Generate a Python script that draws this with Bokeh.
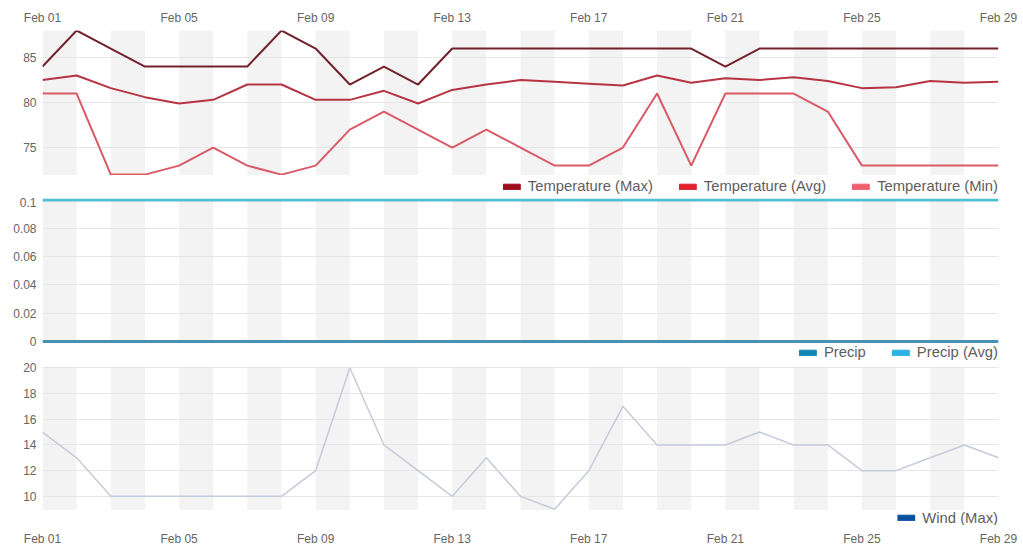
import numpy as np
import pandas as pd
from bokeh.plotting import figure
from bokeh.layouts import column
from bokeh.models import (Range1d, FixedTicker, DatetimeAxis, DatetimeTickFormatter,
                          Legend, LegendItem, BoxAnnotation)
from bokeh.embed import file_html
from bokeh.resources import INLINE

# ---------------- data ----------------
dates = pd.date_range("2020-02-01", "2020-02-29", freq="D")

temp_max = [84, 88, 86, 84, 84, 84, 84, 88, 86, 82, 84, 82, 86, 86, 86,
            86, 86, 86, 86, 86, 84, 86, 86, 86, 86, 86, 86, 86, 86]
temp_avg = [82.5, 83.0, 81.6, 80.6, 79.9, 80.3, 82.0, 82.0, 80.3, 80.3, 81.3, 79.9, 81.4, 82.0, 82.5,
            82.3, 82.1, 81.9, 83.0, 82.2, 82.7, 82.5, 82.8, 82.4, 81.6, 81.7, 82.4, 82.2, 82.3]
temp_min = [81, 81, 72, 72, 73, 75, 73, 72, 73, 77, 79, 77, 75, 77, 75,
            73, 73, 75, 81, 73, 81, 81, 81, 79, 73, 73, 73, 73, 73]
precip = [0, 0, 0, 0, 0, 0, 0, 0, 0, 0, 0, 0, 0, 0, 0,
          0, 0, 0, 0, 0, 0, 0, 0, 0, 0, 0, 0, 0, 0]
precip_avg = [0.1, 0.1, 0.1, 0.1, 0.1, 0.1, 0.1, 0.1, 0.1, 0.1, 0.1, 0.1, 0.1, 0.1, 0.1,
              0.1, 0.1, 0.1, 0.1, 0.1, 0.1, 0.1, 0.1, 0.1, 0.1, 0.1, 0.1, 0.1, 0.1]
wind_max = [15, 13, 10, 10, 10, 10, 10, 10, 12, 20, 14, 12, 10, 13, 10,
            9, 12, 17, 14, 14, 14, 15, 14, 14, 12, 12, 13, 14, 13]

x_tick_dates = ["2020-02-01", "2020-02-05", "2020-02-09", "2020-02-13",
                "2020-02-17", "2020-02-21", "2020-02-25", "2020-02-29"]
temp_ticks = [75, 80, 85]
precip_ticks = [0, 0.02, 0.04, 0.06, 0.08, 0.1]
precip_tick_labels = ["0", "0.02", "0.04", "0.06", "0.08", "0.1"]
wind_ticks = [10, 12, 14, 16, 18, 20]

temp_labels = ["Temperature (Max)", "Temperature (Avg)", "Temperature (Min)"]
precip_labels = ["Precip", "Precip (Avg)"]
wind_labels = ["Wind (Max)"]

temp_colors = ["#72222c", "#b73442", "#da5a66"]
temp_swatch = ["#9e0b1e", "#e01e2e", "#f0606c"]
precip_colors = ["#4a90b0", "#4fbfd3"]
precip_swatch = ["#1287b5", "#2fb2e2"]
wind_color = "#c5cbda"
wind_swatch = ["#0a4fa0"]

# ---------------- style ----------------
FONT = "Liberation Sans"
TXT = "#666666"
W = 1020
BL, BR = 42, 22
x_ticks_ms = [pd.Timestamp(d).timestamp() * 1000 for d in x_tick_dates]
xr = Range1d(start=dates[0], end=dates[-1])


def style_axis(ax, standoff):
    ax.axis_line_color = None
    ax.major_tick_line_color = None
    ax.minor_tick_line_color = None
    ax.major_tick_out = 0
    ax.major_tick_in = 0
    ax.major_label_standoff = standoff
    ax.major_label_text_font = FONT
    ax.major_label_text_font_size = "12px"
    ax.major_label_text_color = TXT


def date_axis(standoff):
    ax = DatetimeAxis(ticker=FixedTicker(ticks=x_ticks_ms),
                      formatter=DatetimeTickFormatter(days="%b %d", months="%b %d"))
    style_axis(ax, standoff)
    return ax


def add_legend(p, labels, colors, location, margin):
    items = []
    for lab, c in zip(labels, colors):
        nan = np.array([np.nan])
        r = p.quad(left=nan, right=nan, top=nan, bottom=nan, fill_color=c, line_color=c)
        items.append(LegendItem(label=lab, renderers=[r]))
    lg = Legend(items=items, orientation="horizontal", location=location,
                glyph_width=21, glyph_height=7, label_standoff=6, spacing=24,
                padding=0, margin=margin, label_height=14,
                label_text_font=FONT, label_text_font_size="14.8px",
                label_text_color="#5e5e5e", border_line_color=None,
                background_fill_alpha=0)
    p.add_layout(lg)


def data_fig(height, top, yr, yticks, band_bottom=None):
    p = figure(width=W, height=height, x_range=xr, y_range=yr,
               x_axis_location=None, output_backend="svg", toolbar_location=None,
               min_border_left=BL, min_border_right=BR,
               min_border_top=top, min_border_bottom=0,
               outline_line_color=None, background_fill_color="white",
               border_fill_color="white")
    for g in p.xgrid:
        g.visible = False
    p.ygrid.grid_line_color = "#e6e6e6"
    p.ygrid.grid_line_width = 1
    boxes = []
    for l, r in zip(dates[0:-1:2], dates[1::2]):
        b = BoxAnnotation(left=l, right=r, fill_color="#f3f3f3", fill_alpha=1.0,
                          line_color=None, level="underlay")
        if band_bottom is not None:
            b.bottom = band_bottom
        boxes.append(b)
    p.center = boxes + list(p.center)
    p.yaxis.ticker = FixedTicker(ticks=yticks)
    style_axis(p.yaxis, 6)
    return p


def legend_fig(height, bottom, labels, colors):
    p = figure(width=W, height=height, x_range=xr, y_range=Range1d(0, 1),
               x_axis_location=None, y_axis_location=None,
               output_backend="svg", toolbar_location=None,
               min_border_left=BL, min_border_right=BR,
               min_border_top=0, min_border_bottom=bottom,
               outline_line_color=None, background_fill_color="white",
               border_fill_color="white")
    p.grid.visible = False
    add_legend(p, labels, colors, "right", 0)
    return p


# ---------------- panel 1: temperature ----------------
p1 = data_fig(175, 30, Range1d(71.9, 88.0), temp_ticks)
p1.add_layout(date_axis(6), "above")
p1.line(dates, temp_max, line_color=temp_colors[0], line_width=2)
p1.line(dates, temp_avg, line_color=temp_colors[1], line_width=2)
p1.line(dates, temp_min, line_color=temp_colors[2], line_width=2)
l1 = legend_fig(22, 0, temp_labels, temp_swatch)

# ---------------- panel 2: precipitation (legend inside lower strip) ----------------
p2 = data_fig(163, 1, Range1d(-0.01343, 0.10106), precip_ticks, band_bottom=precip_ticks[0])
p2.yaxis.major_label_overrides = dict(zip(precip_ticks, precip_tick_labels))
p2.line(dates, precip_avg, line_color=precip_colors[1], line_width=3)
p2.line(dates, precip, line_color=precip_colors[0], line_width=3)
add_legend(p2, precip_labels, precip_swatch, "bottom_right", 0)

# ---------------- panel 3: wind ----------------
p3 = data_fig(150, 6, Range1d(8.9, 20.1), wind_ticks)
p3.line(dates, wind_max, line_color=wind_color, line_width=1.5)
l3 = legend_fig(38, 20, wind_labels, wind_swatch)
l3.add_layout(date_axis(6), "below")

layout = column(p1, l1, p2, p3, l3, spacing=0)
open("out.html", "w").write(file_html(layout, INLINE))
